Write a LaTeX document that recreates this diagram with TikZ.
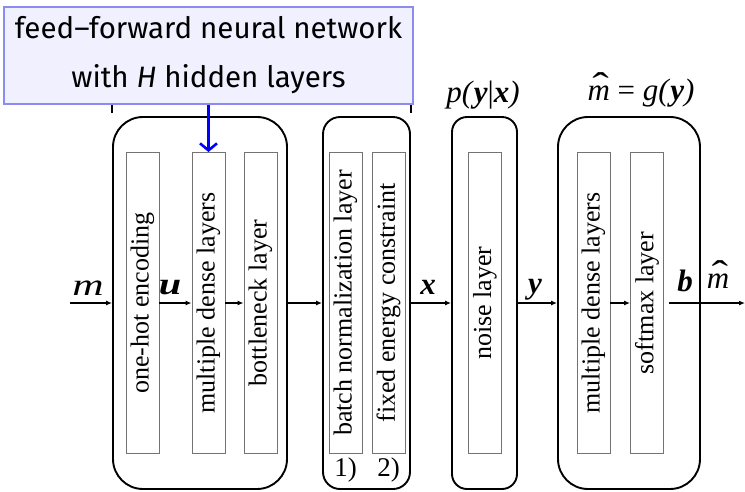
\documentclass[tikz,border=0pt]{standalone}
\usepackage{fontspec}
\setmainfont{Liberation Serif}
\newfontfamily\boxfont{Fira Sans}
\usetikzlibrary{arrows.meta}

% bold italic symbol
\newcommand\bsym[1]{\textbf{\textit{#1}}}
% italic m with a wide circumflex on top
\newcommand\mhat{{\ooalign{\textit{m}\cr\hidewidth\kern0.12em\raisebox{0.05em}{\scalebox{1.6}[1.2]{\char"02C6}}\hidewidth\cr}}}

\begin{document}
\begin{tikzpicture}[x=1pt,y=-1pt,
  block/.style={draw, line width=1.9pt, rounded corners=#1, minimum height=372pt, inner sep=0pt},
  layer/.style={draw=black!55, line width=0.9pt, minimum width=33pt, minimum height=301pt,
                inner sep=0pt, font=\fontsize{26}{30}\selectfont},
  lbl/.style={inner sep=0pt, font=\fontsize{31}{34}\selectfont},
  num/.style={inner sep=0pt, font=\fontsize{27}{30}\selectfont},
  arr/.style={line width=1.3pt, -{Latex[length=6pt,width=5pt]}},
  ffbox/.style={draw={rgb,255:red,140;green,140;blue,240}, fill={rgb,255:red,240;green,240;blue,255},
                line width=1.2pt, minimum width=409pt, minimum height=97pt, align=center,
                font=\boxfont\fontsize{29.5}{49}\selectfont},
  hint/.style={draw=blue, line width=2.6pt, -{Straight Barb[length=7pt,width=17pt]}}
]
\useasboundingbox (0,0) rectangle (745,491);

% outer stages
\node[block=30pt, minimum width=174pt] (enc)   at (200,303) {};
\node[block=17pt, minimum width=87pt]  (norm)  at (366.5,303) {};
\node[block=15pt, minimum width=65pt]  (chan)  at (484.5,303) {};
\node[block=30pt, minimum width=142pt] (dec)   at (629,303) {};

% layers
\node[layer] (onehot)  at (142.5,303) {\rotatebox{90}{one-hot encoding}};
\node[layer] (dense)   at (208.5,303) {\rotatebox{90}{multiple dense layers}};
\node[layer] (bneck)   at (260.5,303) {\rotatebox{90}{bottleneck layer}};
\node[layer] (batch)   at (345.5,303) {\rotatebox{90}{batch normalization layer}};
\node[layer] (energy)  at (388.5,303) {\rotatebox{90}{fixed energy constraint}};
\node[layer] (noise)   at (485,303)   {\rotatebox{90}{noise layer}};
\node[layer] (ddense)  at (593.5,303) {\rotatebox{90}{multiple dense layers}};
\node[layer] (softmax) at (647,303)   {\rotatebox{90}{softmax layer}};

\node[num] (n1) at (345.5,470) {1)};
\node[num] (n2) at (388.5,470) {2)};

% signal flow
\coordinate (src) at (70,303);
\coordinate (snk) at (745,303);
\draw[arr] (src) -- (enc.west);
\draw[arr] (onehot.east) -- (dense.west);
\draw[arr] (dense.east) -- (bneck.west);
\draw[arr] (enc.east) -- (norm.west);
\draw[arr] (norm.east) -- (chan.west);
\draw[arr] (chan.east) -- (dec.west);
\draw[arr] (ddense.east) -- (softmax.west);
\draw[arr] ([xshift=5pt]softmax.east) -- (snk);

% signal labels
\node[lbl] (lm) at (88,288) {\scalebox{1.4}[1]{\textit{m}}};
\node[lbl] (lu) at (170,288) {\scalebox{1.3}[1]{\bsym{u}}};
\node[lbl] (lx) at (428,287) {\bsym{x}};
\node[lbl] (ly) at (535,290) {\bsym{y}};
\node[lbl] (lb) at (685,281) {\bsym{b}};
\node[lbl] (lmh) at (718,281) {\mhat};
\node[lbl] (lp) at (483,95) {\textit{p(}\bsym{y}|\bsym{x}\textit{)}};
\node[lbl] (lg) at (641,93) {\mhat{} = \textit{g(}\bsym{y}\textit{)}};

% bracket over the first two stages
\draw[line width=1.5pt] (enc.west |- 0,113) -- (enc.west |- 0,98) -- (norm.east |- 0,98) -- (norm.east |- 0,113);

% annotation
\node[ffbox] (ff) at (208.5,55.5) {feed–forward neural network\\with \textit{H} hidden layers};
\draw[hint] (ff.south -| dense.north) -- (dense.north);
\end{tikzpicture}
\end{document}
